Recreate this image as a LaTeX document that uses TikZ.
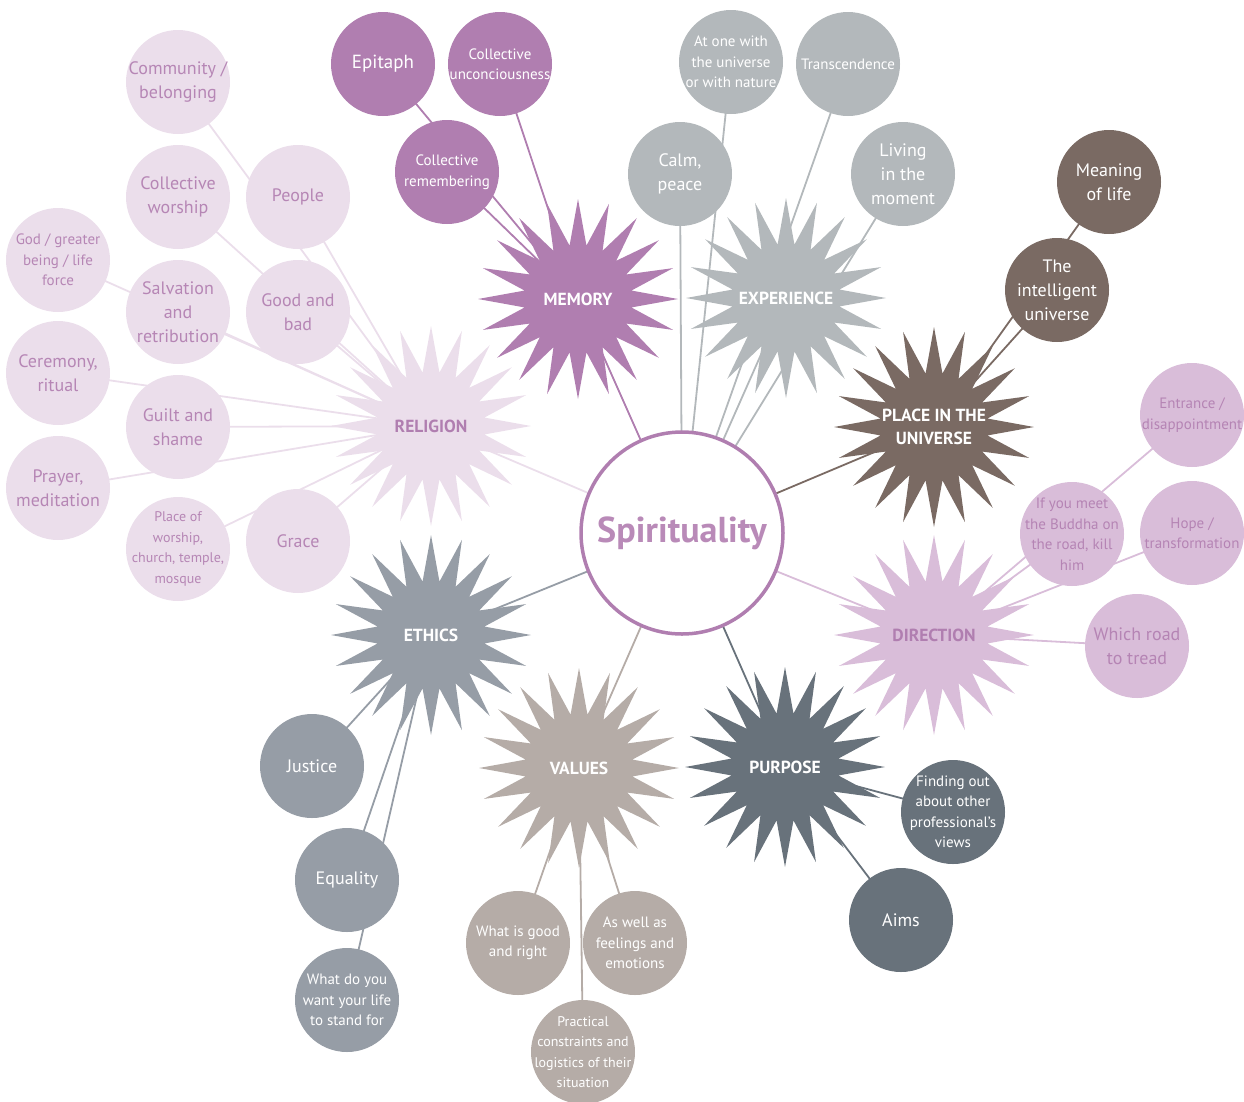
\documentclass[tikz,border=0pt]{standalone}
\usepackage{fontspec}
\setmainfont{PT Sans}
\usetikzlibrary{shapes.geometric}
\pgfdeclarelayer{bg}
\pgfsetlayers{bg,main}
\definecolor{memC}{HTML}{B07EB0}
\definecolor{expC}{HTML}{B3B8BB}
\definecolor{placeC}{HTML}{7A6A63}
\definecolor{dirC}{HTML}{D9BDD9}
\definecolor{dirT}{HTML}{B584B4}
\definecolor{purpC}{HTML}{68727B}
\definecolor{valC}{HTML}{B5ACA7}
\definecolor{ethC}{HTML}{969DA6}
\definecolor{relC}{HTML}{EBDEEB}
\definecolor{relT}{HTML}{B686B5}
\definecolor{ctrT}{HTML}{B98AB8}
\tikzset{
  link/.style={line width=1.8pt},
  bub/.style={circle, minimum size=104pt, inner sep=-30pt, align=center, text=white},
  fs/.style={font=\fontsize{15}{20.5}\selectfont},
  fxs/.style={font=\fontsize{14}{20.5}\selectfont},
  fm/.style={font=\fontsize{18}{24}\selectfont},
  burst/.style={star, star points=20, star point ratio=1.85, minimum size=200pt, inner sep=0pt, draw=none},
  bursttext/.style={font=\bfseries\fontsize{17.5}{23}\selectfont, text=white, align=center},
}
\begin{document}
\begin{tikzpicture}[x=1pt,y=-1pt]
\useasboundingbox (0,0) rectangle (1244,1101);

% ---------- stars ----------
\node[burst, fill=memC] (memory) at (578,299) {};
\node[burst, fill=expC] (experience) at (786,298) {};
\node[burst, fill=placeC] (place) at (934,427) {};
\node[burst, fill=dirC] (direction) at (934,635) {};
\node[burst, fill=purpC] (purpose) at (785,767) {};
\node[burst, fill=valC] (values) at (579,768) {};
\node[burst, fill=ethC] (ethics) at (431,635) {};
\node[burst, fill=relC] (religion) at (431,426) {};

\node[bursttext] (memoryL) at (memory) {MEMORY};
\node[bursttext] (experienceL) at (experience) {EXPERIENCE};
\node[bursttext] (placeL) at (place) {PLACE IN THE\\UNIVERSE};
\node[bursttext, text=memC] (directionL) at (direction) {DIRECTION};
\node[bursttext] (purposeL) at (purpose) {PURPOSE};
\node[bursttext] (valuesL) at (values) {VALUES};
\node[bursttext] (ethicsL) at (ethics) {ETHICS};
\node[bursttext, text=memC] (religionL) at (religion) {RELIGION};

% ---------- centre ----------
\node[circle, minimum size=202pt, inner sep=0pt, draw=memC, line width=3.5pt, fill=white,
      font=\bfseries\fontsize{36}{40}\selectfont, text=ctrT] (spirit) at (682,533) {Spirituality};

% ---------- memory ----------
\node[bub, fill=memC, font=\fontsize{19}{24}\selectfont] (epitaph) at (383,64) {Epitaph};
\node[bub, fs, fill=memC] (unconc) at (500,64) {Collective\\unconciousness};
\node[bub, fs, fill=memC] (remem) at (447,172) {Collective\\remembering};

% ---------- experience ----------
\node[bub, fm, fill=expC] (calm) at (680,174) {Calm,\\peace};
\node[bub, fs, fill=expC] (atone) at (731,62) {At one with\\the universe\\or with nature};
\node[bub, fs, fill=expC] (transc) at (848,64) {Transcendence};
\node[bub, fm, fill=expC] (living) at (903,174) {Living\\in the\\moment};

% ---------- place ----------
\node[bub, fm, fill=placeC] (meaning) at (1109,182) {Meaning\\of life};
\node[bub, fm, fill=placeC] (intell) at (1057,290) {The\\intelligent\\universe};

% ---------- direction ----------
\node[bub, fs, fill=dirC, text=dirT] (entrance) at (1192,415) {Entrance /\\disappointment};
\node[bub, fs, fill=dirC, text=dirT] (buddha) at (1072,534) {If you meet\\the Buddha on\\the road, kill\\him};
\node[bub, fs, fill=dirC, text=dirT] (hope) at (1192,533) {Hope /\\transformation};
\node[bub, fm, fill=dirC, text=dirT] (road) at (1137,646) {Which road\\to tread};

% ---------- purpose ----------
\node[bub, fs, fill=purpC] (finding) at (953,812) {Finding out\\about other\\professional’s\\views};
\node[bub, fm, fill=purpC] (aims) at (901,920) {Aims};

% ---------- values ----------
\node[bub, fs, fill=valC] (good) at (518,943) {What is good\\and right};
\node[bub, fs, fill=valC] (feel) at (635,943) {As well as\\feelings and\\emotions};
\node[bub, fxs, fill=valC] (practical) at (583,1052) {Practical\\constraints and\\logistics of their\\situation};

% ---------- ethics ----------
\node[bub, fm, fill=ethC] (justice) at (312,766) {Justice};
\node[bub, fm, fill=ethC] (equality) at (347,880) {Equality};
\node[bub, fs, fill=ethC] (standfor) at (347,1000) {What do you\\want your life\\to stand for};

% ---------- religion ----------
\node[bub, fm, fill=relC, text=relT] (community) at (178,82) {Community /\\belonging};
\node[bub, fm, fill=relC, text=relT] (people) at (298,197) {People};
\node[bub, fm, fill=relC, text=relT] (cworship) at (178,197) {Collective\\worship};
\node[bub, fs, fill=relC, text=relT] (god) at (58,260) {God / greater\\being / life\\force};
\node[bub, fm, fill=relC, text=relT] (salvation) at (178,312) {Salvation\\and\\retribution};
\node[bub, fm, fill=relC, text=relT] (goodbad) at (298,312) {Good and\\bad};
\node[bub, fm, fill=relC, text=relT] (ceremony) at (58,373) {Ceremony,\\ritual};
\node[bub, fm, fill=relC, text=relT] (guilt) at (178,427) {Guilt and\\shame};
\node[bub, fm, fill=relC, text=relT] (prayer) at (58,488) {Prayer,\\meditation};
\node[bub, fxs, fill=relC, text=relT] (pworship) at (178,549) {Place of\\worship,\\church, temple,\\mosque};
\node[bub, fm, fill=relC, text=relT] (grace) at (298,541) {Grace};

% ---------- connectors ----------
\begin{pgfonlayer}{bg}
\draw[link, memC] (memory.center) -- (spirit.center);
\foreach \n in {epitaph, unconc, remem} \draw[link, memC] (\n.center) -- (memory.center);

\draw[link, expC] (experience.center) -- (spirit.center);
\foreach \n in {calm, atone, transc, living} \draw[link, expC] (\n.center) -- (spirit.center);

\draw[link, placeC] (place.center) -- (spirit.center);
\foreach \n in {meaning, intell} \draw[link, placeC] (\n.center) -- (place.center);

\draw[link, dirC] (direction.center) -- (spirit.center);
\foreach \n in {entrance, buddha, hope, road} \draw[link, dirC] (\n.center) -- (direction.center);

\draw[link, purpC] (purpose.center) -- (spirit.center);
\foreach \n in {finding, aims} \draw[link, purpC] (\n.center) -- (purpose.center);

\draw[link, valC] (values.center) -- (spirit.center);
\foreach \n in {good, feel, practical} \draw[link, valC] (\n.center) -- (values.center);

\draw[link, ethC] (ethics.center) -- (spirit.center);
\foreach \n in {justice, equality, standfor} \draw[link, ethC] (\n.center) -- (ethics.center);

\draw[link, relC] (religion.center) -- (spirit.center);
\foreach \n in {community, people, cworship, god, salvation, goodbad, ceremony, guilt, prayer, pworship, grace}
  \draw[link, relC] (\n.center) -- (religion.center);
\end{pgfonlayer}
\end{tikzpicture}
\end{document}
